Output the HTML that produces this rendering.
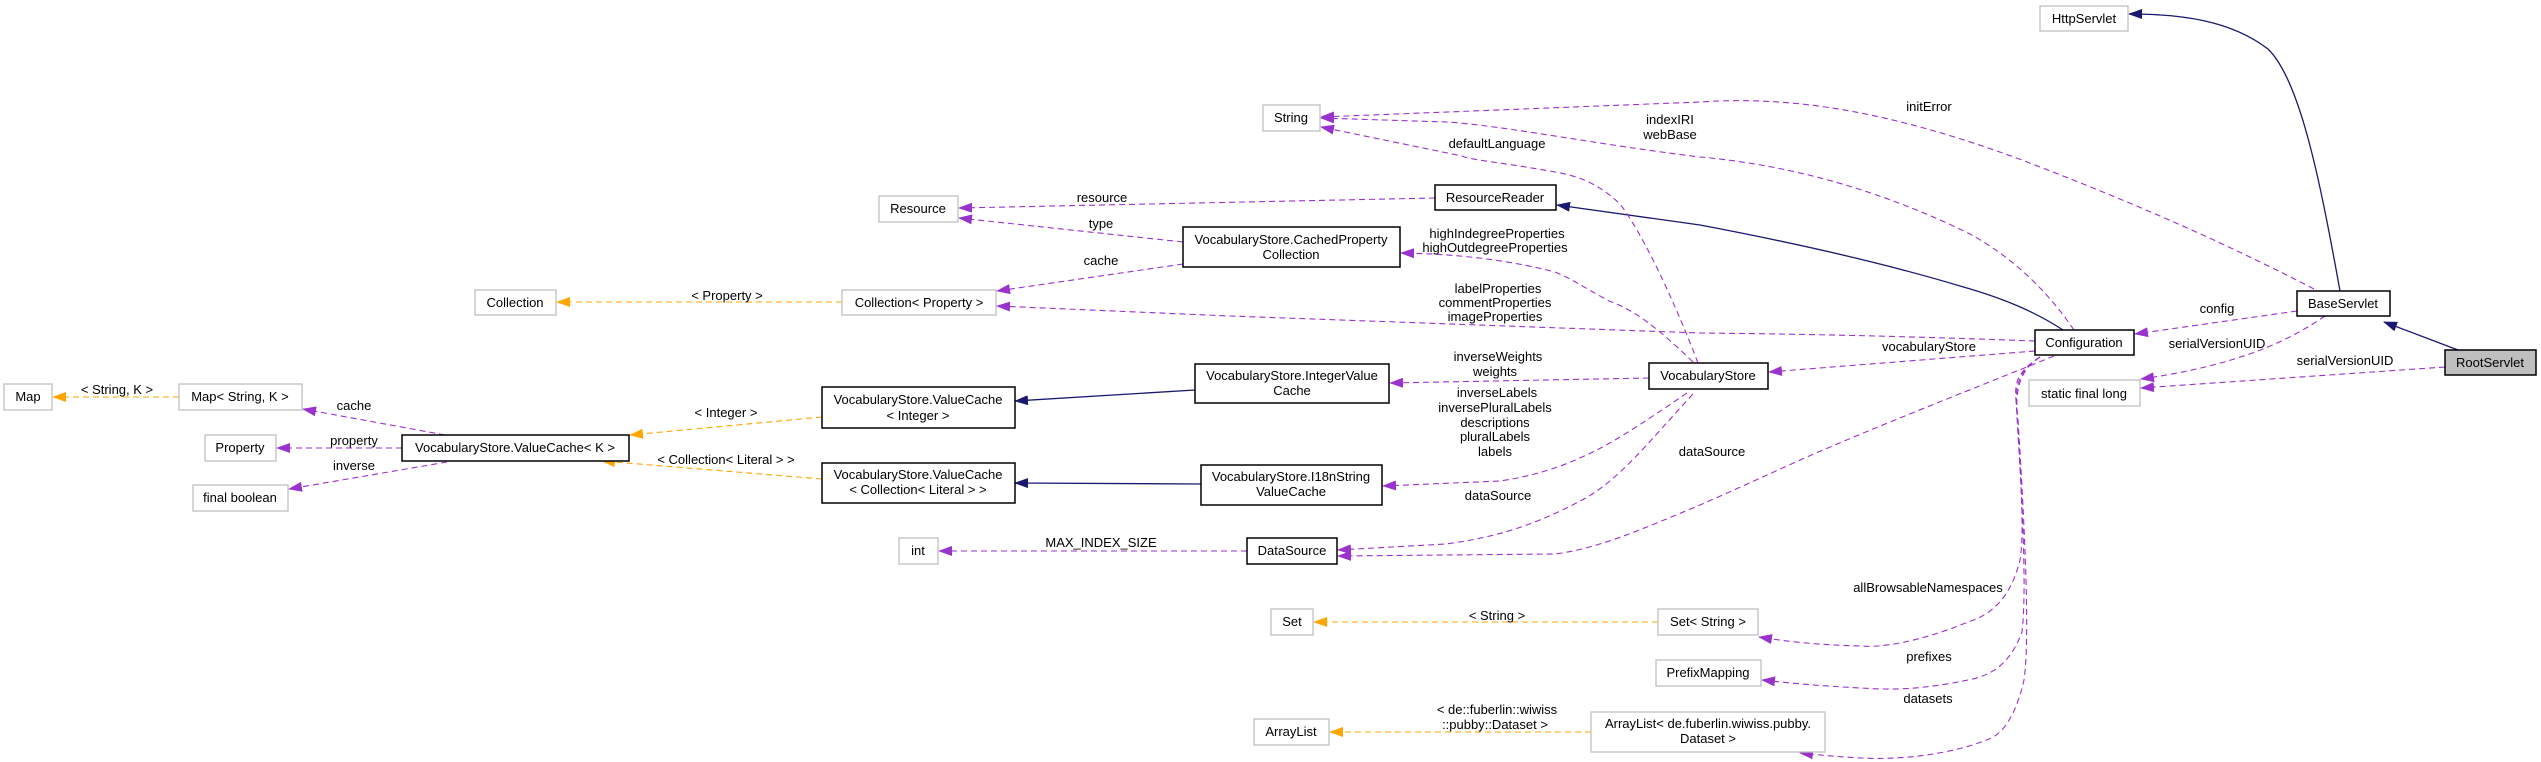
<!DOCTYPE html>
<html><head><meta charset="utf-8"><style>
html,body{margin:0;padding:0;background:#fff;}
svg{display:block;}
text{font-family:"Liberation Sans",sans-serif;font-size:13px;fill:#000;}
.g{fill:#fff;stroke:#bfbfbf;stroke-width:1.3;}
.b{fill:#fff;stroke:#000;stroke-width:1.5;}
.p{fill:none;stroke:#9a32cd;stroke-width:1.1;stroke-dasharray:6,4;}
.o{fill:none;stroke:#ffa500;stroke-width:1.1;stroke-dasharray:6,4;}
.n{fill:none;stroke:#191970;stroke-width:1.3;}
</style></head><body>
<svg width="2541" height="762" viewBox="0 0 2541 762" xmlns="http://www.w3.org/2000/svg">
<defs>
<marker id="mp" markerWidth="14" markerHeight="10" refX="13" refY="5" orient="auto" markerUnits="userSpaceOnUse"><path d="M0,0 L14,5 L0,10 z" fill="#9a32cd"/></marker>
<marker id="mo" markerWidth="14" markerHeight="10" refX="13" refY="5" orient="auto" markerUnits="userSpaceOnUse"><path d="M0,0 L14,5 L0,10 z" fill="#ffa500"/></marker>
<marker id="mn" markerWidth="14" markerHeight="10" refX="13" refY="5" orient="auto" markerUnits="userSpaceOnUse"><path d="M0,0 L14,5 L0,10 z" fill="#191970"/></marker>
</defs>

<!-- navy edges -->
<path class="n" marker-end="url(#mn)" d="M2340,291 C2320,180 2300,80 2268,49 C2230,20 2180,14 2129,14"/>
<path class="n" marker-end="url(#mn)" d="M2458,350 L2384,322"/>
<path class="n" marker-end="url(#mn)" d="M2063,330 C2040,315 2010,300 1960,286 C1880,262 1790,242 1700,225 L1557,205"/>
<path class="n" marker-end="url(#mn)" d="M1195,390 L1015,401"/>
<path class="n" marker-end="url(#mn)" d="M1201,484 L1015,483"/>

<!-- purple edges -->
<path class="p" marker-end="url(#mp)" d="M2445,367 L2141,388"/>
<path class="p" marker-end="url(#mp)" d="M2325,316 C2290,340 2240,365 2141,379"/>
<path class="p" marker-end="url(#mp)" d="M2297,311 L2135,334"/>
<path class="p" marker-end="url(#mp)" d="M2314,289 C2200,230 2100,190 2022,160 C1900,115 1800,95 1700,102 L1321,117"/>
<path class="p" marker-end="url(#mp)" d="M2074,330 C2040,280 2000,250 1968,233 C1880,190 1790,165 1700,157 C1600,145 1500,125 1446,122 L1321,118"/>
<path class="p" marker-end="url(#mp)" d="M1698,363 C1670,290 1640,230 1620,204 C1600,185 1580,176 1555,172 C1500,162 1470,160 1462,156 L1321,127"/>
<path class="p" marker-end="url(#mp)" d="M1435,198 L959,208"/>
<path class="p" marker-end="url(#mp)" d="M1183,242 L959,218"/>
<path class="p" marker-end="url(#mp)" d="M1183,264 L997,291"/>
<path class="p" marker-end="url(#mp)" d="M2035,341 C1900,336 1800,334 1700,333 L1230,316 L997,306"/>
<path class="p" marker-end="url(#mp)" d="M1693,362 C1660,330 1635,310 1609,301 C1580,285 1570,278 1555,272 C1500,258 1450,254 1401,253"/>
<path class="p" marker-end="url(#mp)" d="M1649,378 L1390,383"/>
<path class="p" marker-end="url(#mp)" d="M1687,393 C1640,425 1610,445 1582,457 C1550,472 1520,478 1500,481 L1383,486"/>
<path class="p" marker-end="url(#mp)" d="M1693,394 C1650,440 1620,480 1582,500 C1530,528 1490,538 1446,544 L1338,550"/>
<path class="p" marker-end="url(#mp)" d="M2054,356 C1970,390 1880,425 1807,457 C1760,478 1730,492 1700,505 C1640,530 1600,548 1555,554 L1338,556"/>
<path class="p" marker-end="url(#mp)" d="M2035,351 L1769,372"/>
<path class="p" marker-end="url(#mp)" d="M1247,551 L939,551"/>
<path class="p" marker-end="url(#mp)" d="M2040,357 C2020,370 2014,380 2016,400 C2020,470 2025,530 2020,560 C2010,600 1990,615 1968,622 C1920,642 1880,648 1861,646 C1820,645 1790,642 1759,637"/>
<path class="p" marker-end="url(#mp)" d="M2040,357 C2020,370 2014,385 2017,410 C2022,500 2027,590 2022,632 C2010,665 1990,676 1968,680 C1920,690 1890,690 1861,688 C1820,686 1790,683 1762,680"/>
<path class="p" marker-end="url(#mp)" d="M2040,357 C2020,370 2014,390 2018,420 C2025,530 2030,640 2024,680 C2015,720 2000,735 1989,739 C1950,755 1900,760 1861,758 C1840,757 1820,755 1800,753"/>
<path class="p" marker-end="url(#mp)" d="M445,435 L303,409"/>
<path class="p" marker-end="url(#mp)" d="M402,448 L277,448"/>
<path class="p" marker-end="url(#mp)" d="M447,462 L289,489"/>

<!-- orange edges -->
<path class="o" marker-end="url(#mo)" d="M179,397 L53,397"/>
<path class="o" marker-end="url(#mo)" d="M842,302 L557,302"/>
<path class="o" marker-end="url(#mo)" d="M822,417 L630,435"/>
<path class="o" marker-end="url(#mo)" d="M822,479 L602,461"/>
<path class="o" marker-end="url(#mo)" d="M1658,622 L1314,622"/>
<path class="o" marker-end="url(#mo)" d="M1591,732 L1330,732"/>

<!-- nodes -->
<rect class="g" x="2040" y="6" width="88" height="25"/><text x="2084" y="23" text-anchor="middle">HttpServlet</text>
<rect class="b" x="2297" y="291" width="93" height="25"/><text x="2343" y="308" text-anchor="middle">BaseServlet</text>
<rect x="2445" y="350" width="91" height="25" fill="#bfbfbf" stroke="#000" stroke-width="1.5"/><text x="2490" y="367" text-anchor="middle">RootServlet</text>
<rect class="b" x="2035" y="330" width="99" height="25"/><text x="2084" y="347" text-anchor="middle">Configuration</text>
<rect class="g" x="2029" y="380" width="111" height="26"/><text x="2084" y="398" text-anchor="middle">static final long</text>
<rect class="g" x="1263" y="105" width="57" height="26"/><text x="1291" y="122" text-anchor="middle">String</text>
<rect class="g" x="879" y="196" width="79" height="26"/><text x="918" y="213" text-anchor="middle">Resource</text>
<rect class="b" x="1435" y="185" width="121" height="25"/><text x="1495" y="202" text-anchor="middle">ResourceReader</text>
<rect class="b" x="1183" y="227" width="217" height="40"/><text x="1291" y="244" text-anchor="middle">VocabularyStore.CachedProperty</text><text x="1291" y="259" text-anchor="middle">Collection</text>
<rect class="g" x="475" y="290" width="81" height="25"/><text x="515" y="307" text-anchor="middle">Collection</text>
<rect class="g" x="842" y="290" width="154" height="25"/><text x="919" y="307" text-anchor="middle">Collection&lt; Property &gt;</text>
<rect class="g" x="4" y="384" width="48" height="26"/><text x="28" y="401" text-anchor="middle">Map</text>
<rect class="g" x="179" y="384" width="123" height="26"/><text x="240" y="401" text-anchor="middle">Map&lt; String, K &gt;</text>
<rect class="g" x="205" y="435" width="71" height="26"/><text x="240" y="452" text-anchor="middle">Property</text>
<rect class="g" x="193" y="485" width="95" height="26"/><text x="240" y="502" text-anchor="middle">final boolean</text>
<rect class="b" x="402" y="435" width="227" height="26"/><text x="515" y="452" text-anchor="middle">VocabularyStore.ValueCache&lt; K &gt;</text>
<rect class="b" x="822" y="387" width="193" height="41"/><text x="918" y="404" text-anchor="middle">VocabularyStore.ValueCache</text><text x="918" y="420" text-anchor="middle">&lt; Integer &gt;</text>
<rect class="b" x="822" y="463" width="193" height="40"/><text x="918" y="479" text-anchor="middle">VocabularyStore.ValueCache</text><text x="918" y="494" text-anchor="middle">&lt; Collection&lt; Literal &gt; &gt;</text>
<rect class="b" x="1195" y="364" width="194" height="39"/><text x="1292" y="380" text-anchor="middle">VocabularyStore.IntegerValue</text><text x="1292" y="395" text-anchor="middle">Cache</text>
<rect class="b" x="1201" y="465" width="181" height="40"/><text x="1291" y="481" text-anchor="middle">VocabularyStore.I18nString</text><text x="1291" y="496" text-anchor="middle">ValueCache</text>
<rect class="b" x="1649" y="363" width="119" height="26"/><text x="1708" y="380" text-anchor="middle">VocabularyStore</text>
<rect class="g" x="899" y="538" width="39" height="26"/><text x="918" y="555" text-anchor="middle">int</text>
<rect class="b" x="1247" y="538" width="90" height="26"/><text x="1292" y="555" text-anchor="middle">DataSource</text>
<rect class="g" x="1271" y="609" width="42" height="26"/><text x="1292" y="626" text-anchor="middle">Set</text>
<rect class="g" x="1658" y="609" width="100" height="26"/><text x="1708" y="626" text-anchor="middle">Set&lt; String &gt;</text>
<rect class="g" x="1656" y="660" width="105" height="26"/><text x="1708" y="677" text-anchor="middle">PrefixMapping</text>
<rect class="g" x="1254" y="719" width="75" height="26"/><text x="1291" y="736" text-anchor="middle">ArrayList</text>
<rect class="g" x="1591" y="712" width="234" height="40"/><text x="1708" y="728" text-anchor="middle">ArrayList&lt; de.fuberlin.wiwiss.pubby.</text><text x="1708" y="743" text-anchor="middle">Dataset &gt;</text>

<!-- edge labels -->
<g text-anchor="middle">
<text x="1929" y="111">initError</text>
<text x="1670" y="124">indexIRI</text>
<text x="1670" y="139">webBase</text>
<text x="1497" y="148">defaultLanguage</text>
<text x="1102" y="202">resource</text>
<text x="1101" y="228">type</text>
<text x="1101" y="265">cache</text>
<text x="1497" y="238">highIndegreeProperties</text>
<text x="1495" y="252">highOutdegreeProperties</text>
<text x="1498" y="293">labelProperties</text>
<text x="1495" y="307">commentProperties</text>
<text x="1495" y="321">imageProperties</text>
<text x="1498" y="361">inverseWeights</text>
<text x="1495" y="376">weights</text>
<text x="1497" y="397">inverseLabels</text>
<text x="1495" y="412">inversePluralLabels</text>
<text x="1495" y="427">descriptions</text>
<text x="1495" y="441">pluralLabels</text>
<text x="1495" y="456">labels</text>
<text x="1498" y="500">dataSource</text>
<text x="1712" y="456">dataSource</text>
<text x="1101" y="547">MAX_INDEX_SIZE</text>
<text x="1497" y="620">&lt; String &gt;</text>
<text x="1497" y="714">&lt; de::fuberlin::wiwiss</text>
<text x="1495" y="729">::pubby::Dataset &gt;</text>
<text x="1929" y="351">vocabularyStore</text>
<text x="2217" y="313">config</text>
<text x="2217" y="348">serialVersionUID</text>
<text x="2345" y="365">serialVersionUID</text>
<text x="1928" y="592">allBrowsableNamespaces</text>
<text x="1929" y="661">prefixes</text>
<text x="1928" y="703">datasets</text>
<text x="117" y="394">&lt; String, K &gt;</text>
<text x="354" y="410">cache</text>
<text x="354" y="445">property</text>
<text x="354" y="470">inverse</text>
<text x="726" y="417">&lt; Integer &gt;</text>
<text x="726" y="464">&lt; Collection&lt; Literal &gt; &gt;</text>
<text x="727" y="300">&lt; Property &gt;</text>
</g>
</svg>
</body></html>
